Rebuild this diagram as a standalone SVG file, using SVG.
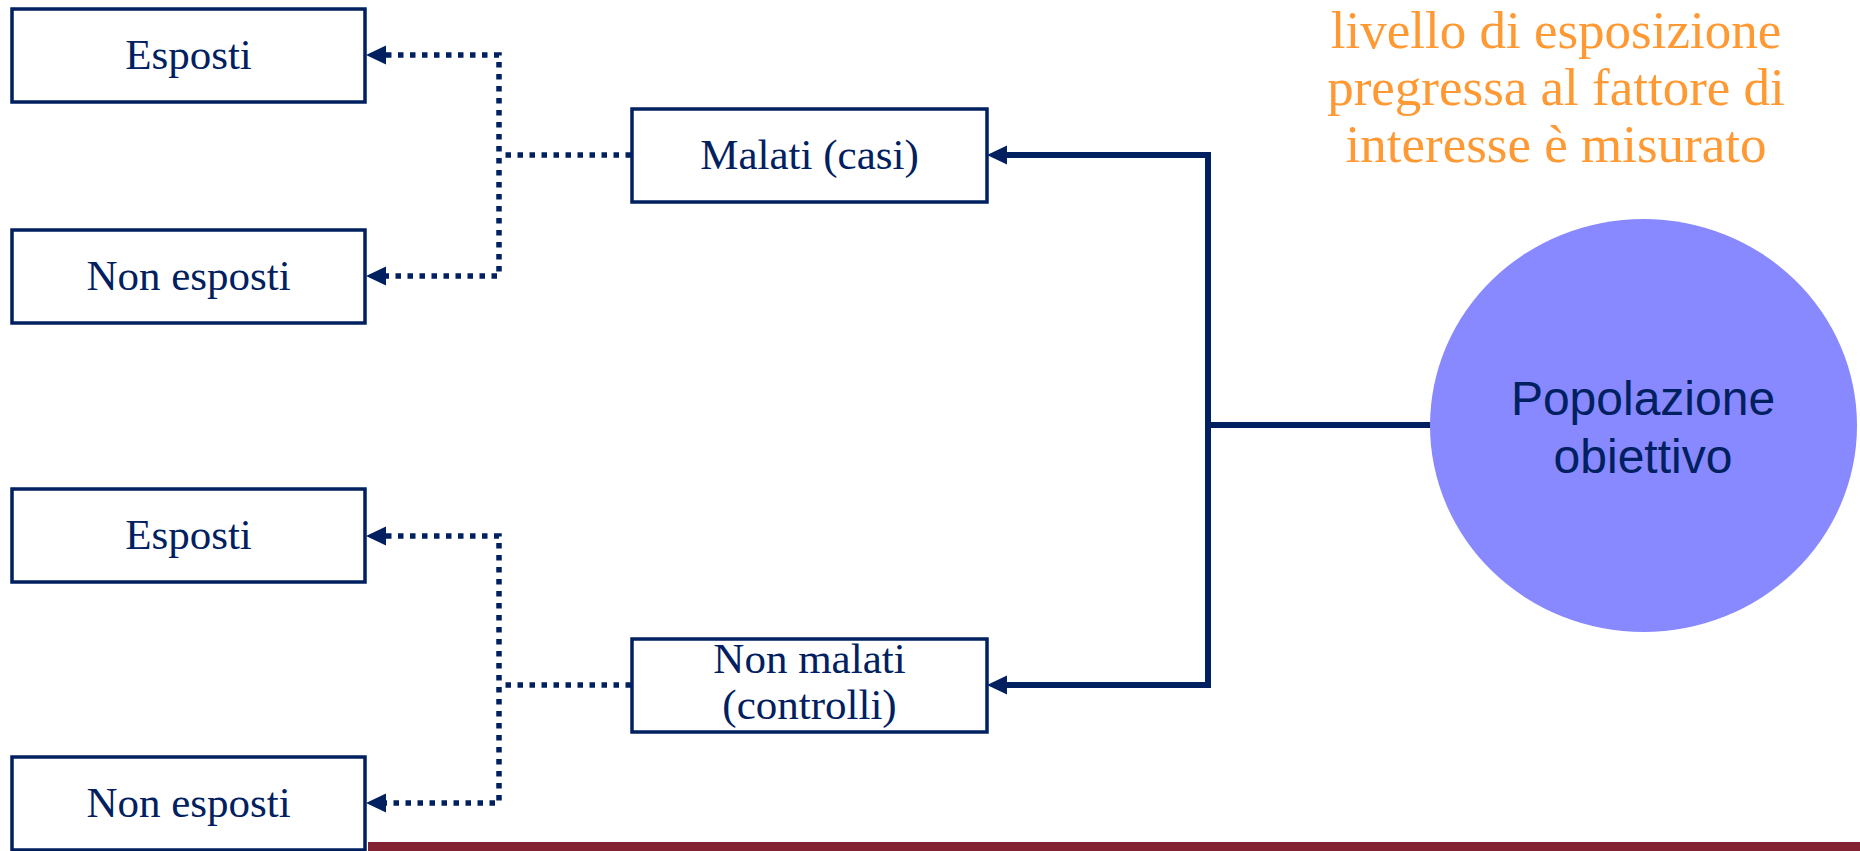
<svg xmlns="http://www.w3.org/2000/svg" width="1860" height="851" viewBox="0 0 1860 851">
  <defs>
    <style>
      .box { fill: #ffffff; stroke: #002060; stroke-width: 3.5; }
      .lbl { font-family: "Liberation Serif", "Times New Roman", serif; font-size: 43px; fill: #002060; text-anchor: middle; }
      .note { font-family: "Liberation Serif", "Times New Roman", serif; font-size: 53px; fill: #FF9933; text-anchor: middle; }
      .pop { font-family: "Liberation Sans", Arial, sans-serif; font-size: 48px; fill: #002060; text-anchor: middle; }
      .dot { fill: none; stroke: #002060; stroke-width: 5.5; stroke-dasharray: 5.5 6.5; }
      .solid { fill: none; stroke: #002060; stroke-width: 6; }
    </style>
    <marker id="arr" markerUnits="userSpaceOnUse" markerWidth="20" markerHeight="20" viewBox="0 0 18 18" refX="0" refY="9" orient="auto-start-reverse">
      <path d="M0,0.5 L18,9 L0,17.5 z" fill="#002060"/>
    </marker>
  </defs>
  <rect width="1860" height="851" fill="#ffffff"/>

  <g id="connectors">
    <path class="dot" d="M631,155 H499"/>
    <path class="dot" d="M386,55 H499 V276 H386" marker-start="url(#arr)" marker-end="url(#arr)"/>
    <path class="dot" d="M631,685 H499"/>
    <path class="dot" d="M386,536 H499 V803 H386" marker-start="url(#arr)" marker-end="url(#arr)"/>
    <path class="solid" d="M1007,155 H1208 V685 H1007" marker-start="url(#arr)" marker-end="url(#arr)"/>
    <path class="solid" d="M1208,425 H1432"/>
  </g>

  <g id="esposti1">
    <rect class="box" x="12" y="9" width="353" height="93"/>
    <text class="lbl" x="188.5" y="69">Esposti</text>
  </g>
  <g id="nonesposti1">
    <rect class="box" x="12" y="230" width="353" height="93"/>
    <text class="lbl" x="188.5" y="290">Non esposti</text>
  </g>
  <g id="esposti2">
    <rect class="box" x="12" y="489" width="353" height="93"/>
    <text class="lbl" x="188.5" y="549">Esposti</text>
  </g>
  <g id="nonesposti2">
    <rect class="box" x="12" y="757" width="353" height="93"/>
    <text class="lbl" x="188.5" y="817">Non esposti</text>
  </g>
  <g id="malati">
    <rect class="box" x="632" y="109" width="355" height="93"/>
    <text class="lbl" x="809.5" y="169">Malati (casi)</text>
  </g>
  <g id="nonmalati">
    <rect class="box" x="632" y="639" width="355" height="93"/>
    <text class="lbl" x="809.5" y="673">Non malati</text>
    <text class="lbl" x="809.5" y="719">(controlli)</text>
  </g>
  <g id="popolazione">
    <ellipse cx="1643.5" cy="425.5" rx="213.5" ry="206.5" fill="#8888FF"/>
    <text class="pop" x="1643" y="415">Popolazione</text>
    <text class="pop" x="1643" y="473">obiettivo</text>
  </g>
  <g id="nota">
    <text class="note" x="1556" y="48">livello di esposizione</text>
    <text class="note" x="1556" y="105">pregressa al fattore di</text>
    <text class="note" x="1556" y="162">interesse è misurato</text>
  </g>
  <rect id="barra" x="368" y="842" width="1492" height="9" fill="#822232"/>
</svg>
